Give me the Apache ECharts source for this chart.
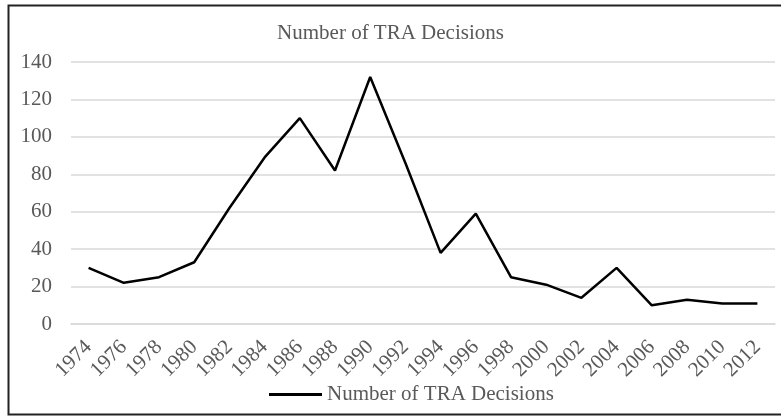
<!DOCTYPE html>
<html>
<head>
<meta charset="utf-8">
<script src="https://cdn.jsdelivr.net/npm/echarts@6/dist/echarts.min.js"></script>
<style>
html,body{margin:0;padding:0;background:#fff;}
#c{width:781px;height:416px;}
</style>
</head>
<body>
<div id="c"></div>
<script>
const years = ['1974','1976','1978','1980','1982','1984','1986','1988','1990','1992','1994','1996','1998','2000','2002','2004','2006','2008','2010','2012'];
const decisions = [30,22,25,33,62,89,110,82,132,86,38,59,25,21,14,30,10,13,11,11];
const seriesName = 'Number of TRA Decisions';
const chartTitle = 'Number of TRA Decisions';

const FONT = "'Liberation Serif', 'Times New Roman', serif";
const TXT = '#595959';
const chart = echarts.init(document.getElementById('c'), null, {renderer:'canvas'});
chart.setOption({
  backgroundColor:'#fff',
  animation:false,
  title:{text:chartTitle,left:'center',top:23,padding:0,
    textStyle:{fontFamily:FONT,fontSize:21,fontWeight:'normal',color:TXT}},
  legend:{bottom:6,left:264,itemWidth:53,itemHeight:3,itemGap:5,
    icon:'rect',
    textStyle:{fontFamily:FONT,fontSize:21,color:TXT},
    data:[{name:seriesName,icon:'rect',itemStyle:{color:'#000'}}]},
  grid:{left:71,right:6,top:62,bottom:92},
  xAxis:{type:'category',data:years,boundaryGap:true,
    axisLine:{show:true,lineStyle:{color:'#d9d9d9',width:1.5}},
    axisTick:{show:false},
    axisLabel:{rotate:45,margin:20,fontFamily:FONT,fontSize:21,color:TXT,interval:0}},
  yAxis:{type:'value',min:0,max:140,interval:20,
    axisLine:{show:false},axisTick:{show:false},
    splitLine:{lineStyle:{color:'#d9d9d9',width:1.5}},
    axisLabel:{margin:19,fontFamily:FONT,fontSize:21,color:TXT}},
  series:[{name:seriesName,type:'line',data:decisions,symbol:'none',
    lineStyle:{color:'#000',width:2.5},itemStyle:{color:'#000'}}],
  graphic:[{type:'rect',shape:{x:8.5,y:5.5,width:800,height:409},
    style:{fill:'none',stroke:'#222',lineWidth:2},silent:true}]
});
</script>
</body>
</html>
